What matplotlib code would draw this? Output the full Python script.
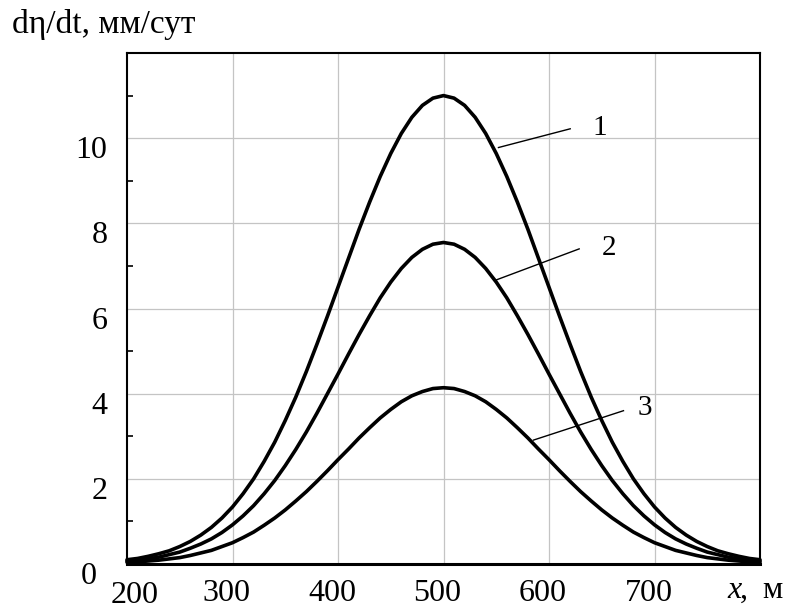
import matplotlib
matplotlib.use("Agg")
import matplotlib.pyplot as plt
from matplotlib.transforms import ScaledTranslation
from matplotlib.ticker import MultipleLocator

# Data (x in m, values in mm/day)
x_m = list(range(200, 801, 10))
curve1 = [0.10, 0.13, 0.18, 0.24, 0.31, 0.41, 0.53, 0.68, 0.86, 1.08,
          1.34, 1.65, 2.00, 2.41, 2.86, 3.37, 3.92, 4.52, 5.16, 5.82,
          6.50, 7.18, 7.86, 8.50, 9.10, 9.64, 10.11, 10.49, 10.77, 10.94,
          11.00,
          10.94, 10.77, 10.49, 10.11, 9.64, 9.10, 8.50, 7.86, 7.18, 6.50,
          5.82, 5.16, 4.52, 3.92, 3.37, 2.86, 2.41, 2.00, 1.65, 1.34,
          1.08, 0.86, 0.68, 0.53, 0.41, 0.31, 0.24, 0.18, 0.13, 0.10]
curve2 = [0.07, 0.09, 0.12, 0.16, 0.22, 0.28, 0.37, 0.47, 0.59, 0.74,
          0.92, 1.13, 1.37, 1.65, 1.96, 2.31, 2.69, 3.10, 3.54, 4.00,
          4.46, 4.93, 5.39, 5.83, 6.25, 6.62, 6.94, 7.20, 7.39, 7.51,
          7.55,
          7.51, 7.39, 7.20, 6.94, 6.62, 6.25, 5.83, 5.39, 4.93, 4.46,
          4.00, 3.54, 3.10, 2.69, 2.31, 1.96, 1.65, 1.37, 1.13, 0.92,
          0.74, 0.59, 0.47, 0.37, 0.28, 0.22, 0.16, 0.12, 0.09, 0.07]
curve3 = [0.04, 0.05, 0.07, 0.09, 0.12, 0.15, 0.20, 0.26, 0.32, 0.41,
          0.50, 0.62, 0.75, 0.91, 1.08, 1.27, 1.48, 1.70, 1.94, 2.19,
          2.45, 2.70, 2.96, 3.20, 3.43, 3.63, 3.81, 3.95, 4.05, 4.12,
          4.14,
          4.12, 4.05, 3.95, 3.81, 3.63, 3.43, 3.20, 2.96, 2.70, 2.45,
          2.19, 1.94, 1.70, 1.48, 1.27, 1.08, 0.91, 0.75, 0.62, 0.50,
          0.41, 0.32, 0.26, 0.20, 0.15, 0.12, 0.09, 0.07, 0.05, 0.04]
curve_labels = ["1", "2", "3"]
x_ticks = [200, 300, 400, 500, 600, 700]
y_ticks = [0, 2, 4, 6, 8, 10]

plt.rcParams['font.family'] = ['Liberation Serif', 'DejaVu Serif']

fig = plt.figure(figsize=(7.86, 6.10), dpi=100)
ax = fig.add_axes([127/786, 1-564/610, (760-127)/786, (564-53)/610])

ax.set_xlim(200, 800)
ax.set_ylim(0, 12)

for y in [curve1, curve2, curve3]:
    ax.plot(x_m, y, color='black', lw=2.6, solid_capstyle='round',
            solid_joinstyle='round', zorder=3, clip_on=False)

# grid lines at inner major positions
for xv in x_ticks[1:]:
    ax.axvline(xv, color='#c4c4c4', lw=0.9, zorder=1)
for yv in y_ticks[1:]:
    ax.axhline(yv, color='#c4c4c4', lw=0.9, zorder=1)

for side in ['left', 'right', 'top']:
    ax.spines[side].set_linewidth(1.5)
ax.spines['bottom'].set_linewidth(2.2)

ax.set_xticks(x_ticks)
ax.set_xticklabels([str(v) for v in x_ticks], fontsize=23)
ax.set_yticks(y_ticks)
ax.set_yticklabels([str(v) for v in y_ticks], fontsize=23)
ax.tick_params(axis='both', which='major', length=0)
ax.tick_params(axis='x', which='major', pad=11)
ax.tick_params(axis='y', which='major', pad=14)
ax.yaxis.set_minor_locator(MultipleLocator(1))
ax.tick_params(axis='y', which='minor', direction='in', length=4, width=1.2)

# shift labels slightly like the reference
for lbl in ax.get_xticklabels():
    if lbl.get_text() == "200":
        lbl.set_transform(lbl.get_transform() + ScaledTranslation(8/100, -2/100, fig.dpi_scale_trans))
    else:
        lbl.set_transform(lbl.get_transform() + ScaledTranslation(-6/100, 0, fig.dpi_scale_trans))
for lbl in ax.get_yticklabels():
    if lbl.get_text() == "0":
        lbl.set_transform(lbl.get_transform() + ScaledTranslation(-11/100, -9/100, fig.dpi_scale_trans))
    else:
        lbl.set_transform(lbl.get_transform() + ScaledTranslation(0, -9/100, fig.dpi_scale_trans))

# leader lines and labels
leaders = [((552.1, 9.78), (620.1, 10.22), (648.5, 10.25)),
           ((549.9, 6.67), (628.6, 7.40), (656.4, 7.42)),
           ((585.3, 2.91), (670.6, 3.60), (691.2, 3.66))]
for lab, (p0, p1, pt) in zip(curve_labels, leaders):
    ax.plot([p0[0], p1[0]], [p0[1], p1[1]], color='black', lw=1.0, zorder=4)
    ax.text(pt[0], pt[1], lab, fontsize=21, ha='center', va='center')

fig.text(12/786, 1-25/610, "dη/dt, мм/сут", fontsize=24, ha='left', va='center')
fig.text(727/786, 1-598/610, "x", fontsize=23, style='italic', ha='left', va='baseline')
fig.text(740/786, 1-598/610, ",", fontsize=23, ha='left', va='baseline')
fig.text(762/786, 1-598/610, "м", fontsize=23, ha='left', va='baseline')

fig.savefig("out.png", dpi=100)
